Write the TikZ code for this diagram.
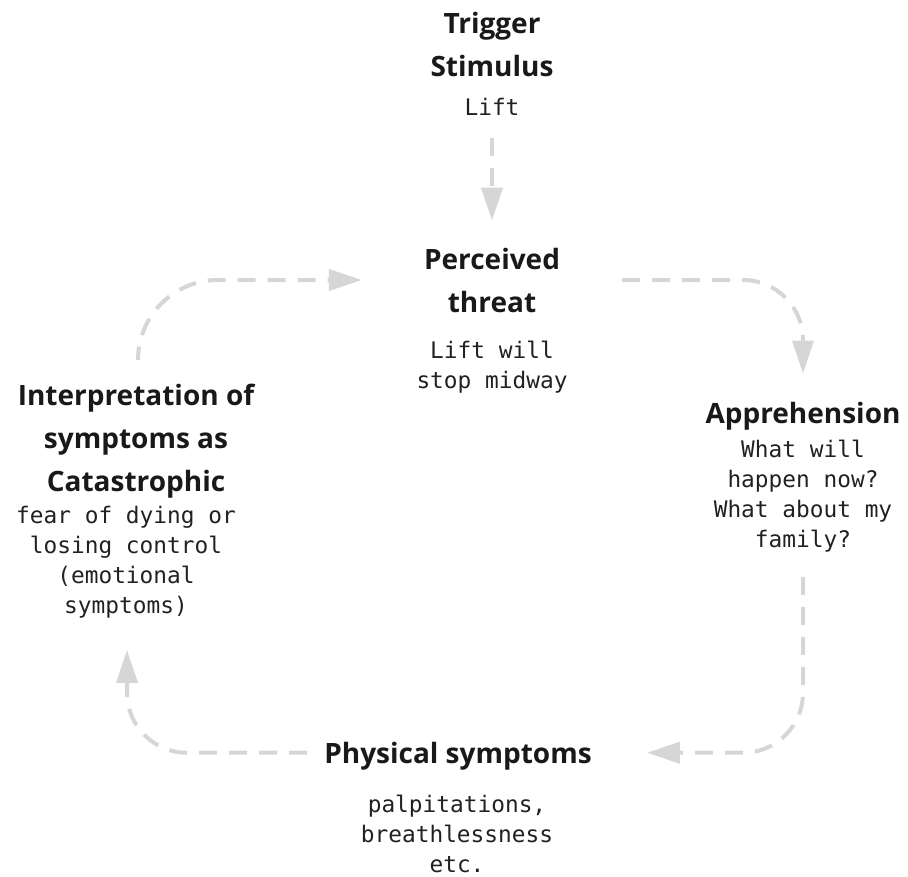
\documentclass[tikz,border=0pt]{standalone}
\usepackage{fontspec}
\newfontfamily\headfont{Open Sans}[BoldFont={Open Sans Bold}]
\newfontfamily\codefont{DejaVu Sans Mono}
\usetikzlibrary{arrows.meta, calc}

\begin{document}
\begin{tikzpicture}[x=1pt, y=-1pt, >={Triangle[length=33pt, width=21pt]},
  title/.style={font=\headfont\bfseries\fontsize{28}{43}\selectfont, text=black!90, align=center, inner sep=0pt, anchor=base},
  desc/.style={font=\codefont\fontsize{22.8}{30}\selectfont, text=black!87, align=center, inner sep=0pt, anchor=base},
  flow/.style={->, draw=black!16, line width=4pt, dash pattern=on 18pt off 12pt, rounded corners=60pt}]
  \useasboundingbox (0,0) rectangle (908,876);

  % stages of the cycle (base = last line)
  \node[title] (trigger) at (492,76) {Trigger\\Stimulus};
  \node[desc] (lift) at (492,115) {Lift};
  \node[title] (threat) at (492,312) {Perceived\\threat};
  \node[desc] (midway) at (492,388) {Lift will\\stop midway};
  \node[title] (appr) at (803,423) {Apprehension};
  \node[desc] (worry) at (803,547) {What will\\happen now?\\What about my\\family?};
  \node[title] (physical) at (458,763) {Physical symptoms};
  \node[desc] (palp) at (457,872) {palpitations,\\breathlessness\\etc.};
  \node[title] (interp) at (136,491) {Interpretation of\\symptoms as\\Catastrophic};
  \node[desc] (fear) at (126,613) {fear of dying or\\losing control\\(emotional\\symptoms)};

  % dashed connectors
  \draw[flow] ($(lift.south)+(0,23)$) -- ($(threat.north)+(0,-27)$);
  \draw[flow] ($(threat.east)+(62,0)$) -| ($(appr.north)+(0,-28)$);
  \draw[flow] ($(worry.south)+(0,25)$) |- ($(physical.east)+(55,-3)$);
  \draw[flow] ($(physical.west)+(-17,-3)$) -| ($(fear.south)+(1,32)$);
  \draw[flow, rounded corners=80pt] ($(interp.north)+(2,-28)$) |- ($(threat.west)+(-62,0)$);
\end{tikzpicture}
\end{document}
